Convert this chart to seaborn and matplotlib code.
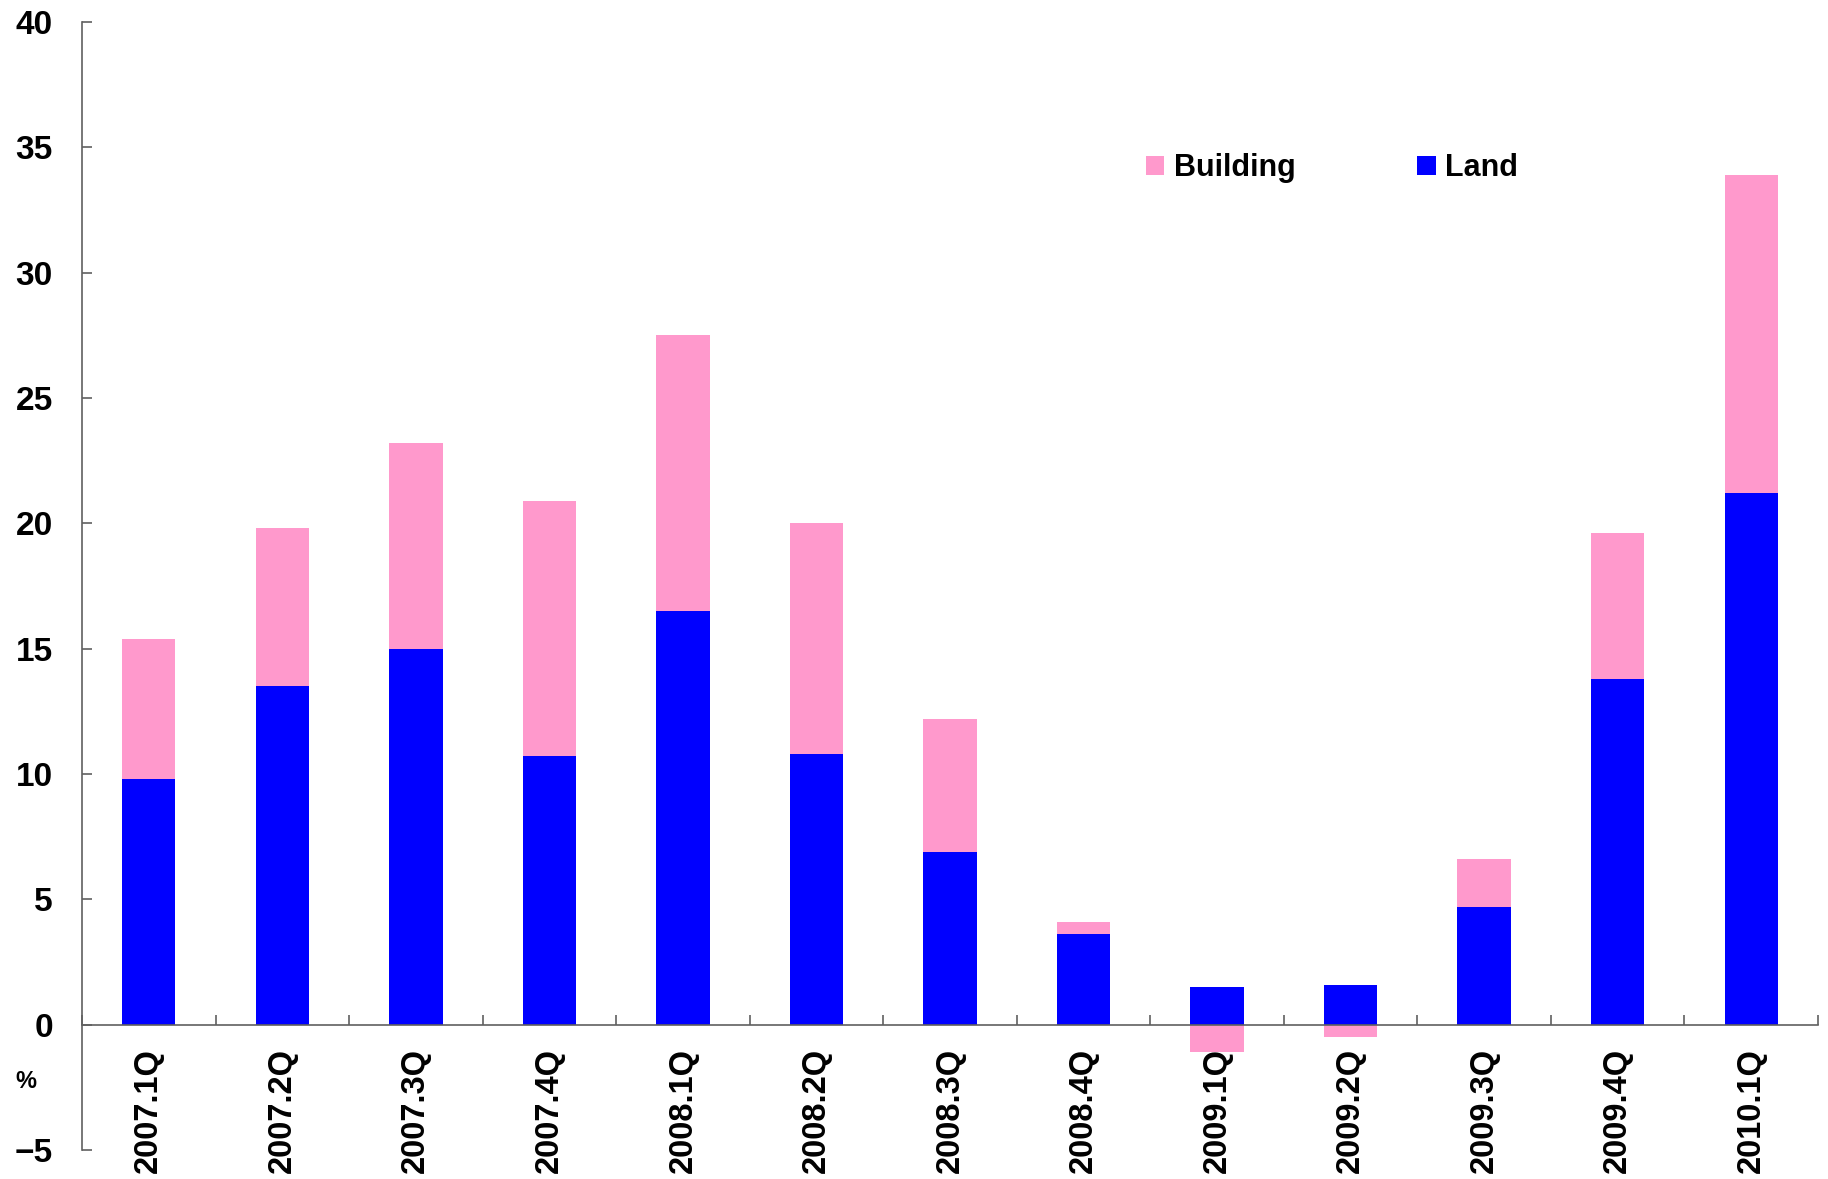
import numpy as np
import pandas as pd
import matplotlib
matplotlib.use("Agg")
import matplotlib.pyplot as plt
from matplotlib.patches import Patch
import seaborn as sns

# Quarterly contribution (percentage points) by component
quarters = ["2007.1Q", "2007.2Q", "2007.3Q", "2007.4Q", "2008.1Q", "2008.2Q", "2008.3Q",
            "2008.4Q", "2009.1Q", "2009.2Q", "2009.3Q", "2009.4Q", "2010.1Q"]
land = [9.8, 13.5, 15.0, 10.7, 16.5, 10.8, 6.9, 3.6, 1.5, 1.6, 4.7, 13.8, 21.2]
building = [5.6, 6.3, 8.2, 10.2, 11.0, 9.2, 5.3, 0.5, -1.1, -0.5, 1.9, 5.8, 12.7]

yticks = [-5, 0, 5, 10, 15, 20, 25, 30, 35, 40]

land_color = "#0000FF"
building_color = "#FF99CC"
axis_color = "#606060"

df = pd.DataFrame({"quarter": quarters, "land": land, "building": building})
# positive building values stack on top of land; negative ones hang below zero
df["building_base"] = np.where(df["building"] >= 0, df["land"], 0.0)

sns.set_theme(style="white")
plt.rcParams["font.family"] = ["Liberation Sans", "DejaVu Sans"]
plt.rcParams["text.color"] = "black"

W, H = 1828, 1179
fig = plt.figure(figsize=(W / 100, H / 100), dpi=100)
ax = fig.add_axes([82 / W, 1 - 1150 / H, (1818 - 82) / W, (1150 - 22) / H])

sns.barplot(data=df, x="quarter", y="land", color=land_color, width=0.4,
            saturation=1, ax=ax, linewidth=0)
sns.barplot(data=df, x="quarter", y="building", color=building_color, width=0.4,
            saturation=1, ax=ax, linewidth=0, bottom=df["building_base"].to_numpy())

ax.set_xlim(-0.5, len(quarters) - 0.5)
ax.set_ylim(-5, 40)
ax.set_yticks(yticks)
ax.set_yticklabels([f"{v}".replace("-", "\u2212") for v in yticks],
                   fontsize=24, fontweight="bold")
ax.set_xlabel("")
ax.set_ylabel("")

# spines: left axis over full range, category axis at zero
for side in ["top", "right"]:
    ax.spines[side].set_visible(False)
ax.spines["left"].set_color(axis_color)
ax.spines["left"].set_linewidth(1.2)
ax.spines["bottom"].set_position(("data", 0))
ax.spines["bottom"].set_color(axis_color)
ax.spines["bottom"].set_linewidth(1.2)

ax.tick_params(axis="y", direction="in", length=7.2, width=1.2, color=axis_color,
               pad=21, left=True, labelcolor="black")
ax.set_xticks(range(len(quarters)))
ax.set_xticklabels(quarters, rotation=90, fontsize=23.5, fontweight="bold",
                   va="top", ha="center")
ax.tick_params(axis="x", which="major", length=0, pad=17, bottom=True, labelcolor="black")
ax.set_xticks(np.arange(-0.5, len(quarters), 1.0), minor=True)
ax.tick_params(axis="x", which="minor", direction="in", length=7.2, width=1.2,
               color=axis_color, bottom=True)

fig.text(26 / W, 1 - 1082 / H, "%", fontsize=17, fontweight="bold",
         ha="center", va="center", color="black")

handles = [Patch(facecolor=building_color, edgecolor="none", label="Building"),
           Patch(facecolor=land_color, edgecolor="none", label="Land")]
leg = fig.legend(handles=handles, loc="center left", bbox_to_anchor=(1146 / W, 1 - 168 / H),
                 ncol=2, frameon=False, borderpad=0, borderaxespad=0,
                 handlelength=0.6, handleheight=0.6, handletextpad=0.3,
                 columnspacing=4.0, prop={"size": 22, "weight": "bold"})
for t in leg.get_texts():
    t.set_color("black")

fig.savefig("out.png", dpi=100, facecolor="white")
